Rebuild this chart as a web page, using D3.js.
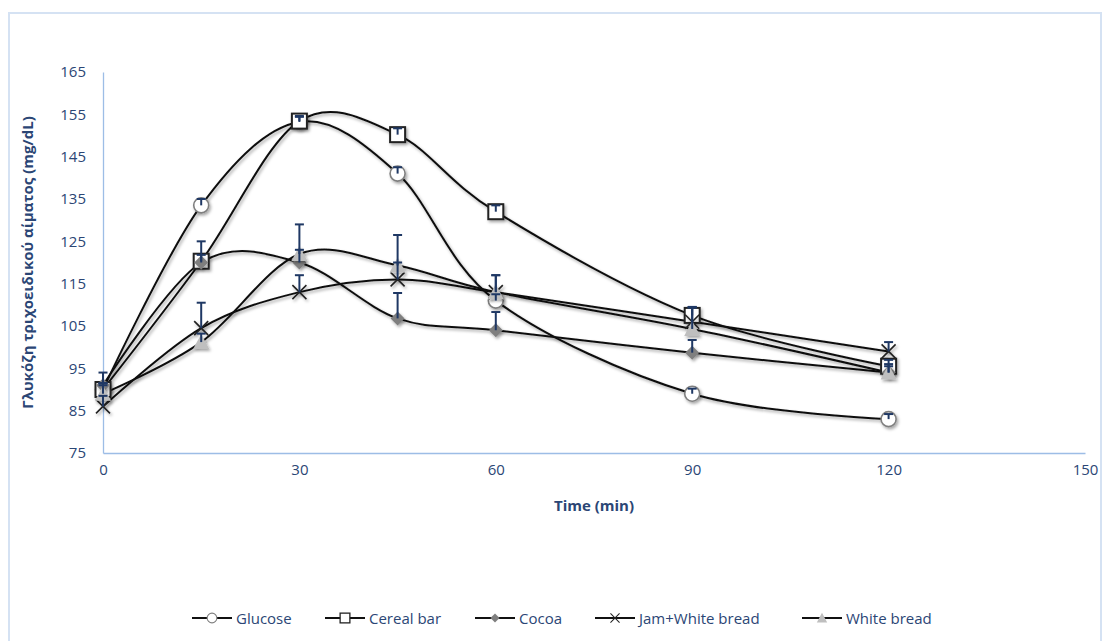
<!DOCTYPE html>
<html>
<head>
<meta charset="utf-8">
<script src="https://cdn.jsdelivr.net/npm/d3@7"></script>
<style>
  body { margin: 0; background: #fff; }
  #chart text { font-family: "Open Sans", "DejaVu Sans Condensed", sans-serif; fill: #2b4675; }
</style>
</head>
<body>
<div id="chart"></div>
<script>
// time points (min)
var times = [0, 15, 30, 45, 60, 90, 120];

// mean glucose (mg/dL) per series
var glucose   = [90, 133.5, 153.2, 141, 111, 89, 83];
var cerealBar = [90, 120.3, 153.4, 150.2, 132, 107.5, 95.5];
var cocoa     = [91, 120, 120, 106.8, 104, 98.7, 94];
var jamBread  = [86, 104.5, 113, 116, 113, 106, 99];
var whiteBread = [89, 101.2, 122, 119.3, 113, 104.3, 94];

// upper error (SD) per series
var glucoseErr   = [1.5, 1.5, 1.2, 1.5, 1.5, 1.2, 1.2];
var cerealErr    = [1.5, 1.5, 1.2, 1.5, 1.5, 2, 1.5];
var cocoaErr     = [3, 5, 3, 6, 4.3, 3, 2];
var jamErr       = [2.5, 6, 4, 4, 4, 3.5, 2.2];
var whiteErr     = [2, 2, 7, 7.2, 4, 5, 1.5];

var names = ["Glucose", "Cereal bar", "Cocoa", "Jam+White bread", "White bread"];
var xTicks = [0, 30, 60, 90, 120, 150];
var yTicks = [75, 85, 95, 105, 115, 125, 135, 145, 155, 165];

var series = [
  {name: names[0], values: glucose, err: glucoseErr, marker: "circle"},
  {name: names[1], values: cerealBar, err: cerealErr, marker: "square"},
  {name: names[2], values: cocoa, err: cocoaErr, marker: "diamond"},
  {name: names[3], values: jamBread, err: jamErr, marker: "x"},
  {name: names[4], values: whiteBread, err: whiteErr, marker: "triangle"}
];

var W = 1102, H = 641;
var margin = {left: 103, right: 17, top: 72, bottom: 188};

var svg = d3.select("#chart").append("svg")
  .attr("width", W).attr("height", H);

var defs = svg.append("defs");
defs.append("filter").attr("id", "shadow")
  .attr("x", "-50%").attr("y", "-50%").attr("width", "200%").attr("height", "200%")
  .append("feDropShadow")
  .attr("dx", 1.5).attr("dy", 2).attr("stdDeviation", 1.5)
  .attr("flood-color", "#000").attr("flood-opacity", 0.35);

// outer frame
svg.append("rect")
  .attr("x", 9).attr("y", 13).attr("width", W - 10).attr("height", H)
  .attr("fill", "none").attr("stroke", "#d5e2f3").attr("stroke-width", 2);

var x = d3.scaleLinear().domain([0, 150]).range([margin.left, W - margin.right]);
var y = d3.scaleLinear().domain([75, 165]).range([H - margin.bottom, margin.top]);

// axes
var xAxis = svg.append("g")
  .attr("transform", "translate(0," + y(75) + ")")
  .call(d3.axisBottom(x).tickValues(xTicks).tickSize(0).tickPadding(11));
xAxis.select(".domain").attr("stroke", "#9dbde6").attr("stroke-width", 1.3);
xAxis.selectAll("text").style("font-size", "15px");

var yAxis = svg.append("g")
  .attr("transform", "translate(" + x(0) + ",0)")
  .call(d3.axisLeft(y).tickValues(yTicks).tickSize(0).tickPadding(17));
yAxis.select(".domain").attr("stroke", "#9dbde6").attr("stroke-width", 1.3);
yAxis.selectAll("text").style("font-size", "15px");

svg.append("text")
  .attr("x", x(75)).attr("y", 511)
  .attr("text-anchor", "middle")
  .style("font-size", "15px").style("font-weight", "bold")
  .text("Time (min)");

svg.append("text")
  .attr("transform", "translate(33," + y(120) + ") rotate(-90)")
  .attr("text-anchor", "middle")
  .style("font-size", "15px").style("font-weight", "bold")
  .text("Γλυκόζη τριχοειδικού αίματος (mg/dL)");

var line = d3.line()
  .x(function(d) { return x(d.t); })
  .y(function(d) { return y(d.v); })
  .curve(d3.curveCardinal.tension(0));

function drawMarker(g, type) {
  if (type == "circle") {
    g.append("circle").attr("r", 7.5).attr("fill", "#fff")
      .attr("stroke", "#7f7f7f").attr("stroke-width", 1.6);
  } else if (type == "square") {
    g.append("rect").attr("x", -7.5).attr("y", -7.5).attr("width", 15).attr("height", 15)
      .attr("fill", "#fff").attr("stroke", "#222").attr("stroke-width", 2);
  } else if (type == "diamond") {
    g.append("path").attr("d", "M0,-7L7,0L0,7L-7,0Z").attr("fill", "#7f7f7f");
  } else if (type == "x") {
    g.append("path").attr("d", "M-7,-7L7,7M-7,7L7,-7")
      .attr("stroke", "#222").attr("stroke-width", 1.6).attr("fill", "none");
  } else if (type == "triangle") {
    g.append("path").attr("d", "M0,-8L8,7L-8,7Z").attr("fill", "#bfbfbf");
  }
}

var plot = svg.append("g");

series.forEach(function(s) {
  var pts = times.map(function(t, i) { return {t: t, v: s.values[i], e: s.err[i]}; });

  plot.append("path")
    .datum(pts)
    .attr("d", line)
    .attr("fill", "none")
    .attr("stroke", "#111")
    .attr("stroke-width", 2)
    .attr("filter", "url(#shadow)");

  s.pts = pts;
});

series.forEach(function(s) {
  var mk = plot.selectAll(null)
    .data(s.pts)
    .enter().append("g")
    .attr("transform", function(d) { return "translate(" + x(d.t) + "," + y(d.v) + ")"; })
    .attr("filter", "url(#shadow)");
  mk.each(function() { drawMarker(d3.select(this), s.marker); });
});

// error bars (upper only), drawn on top
series.forEach(function(s) {
  var eb = plot.selectAll(null)
    .data(s.pts)
    .enter().append("g")
    .attr("stroke", "#1f3864").attr("stroke-width", 2);
  eb.append("line")
    .attr("x1", function(d) { return x(d.t); })
    .attr("x2", function(d) { return x(d.t); })
    .attr("y1", function(d) { return y(d.v); })
    .attr("y2", function(d) { return y(d.v + d.e); });
  eb.append("line")
    .attr("x1", function(d) { return x(d.t) - 4.5; })
    .attr("x2", function(d) { return x(d.t) + 4.5; })
    .attr("y1", function(d) { return y(d.v + d.e); })
    .attr("y2", function(d) { return y(d.v + d.e); });
});

// legend
var legendX = [192, 325, 475, 595, 802];
var leg = svg.append("g");
series.forEach(function(s, i) {
  var g = leg.append("g").attr("transform", "translate(" + legendX[i] + ",618)");
  g.append("line").attr("x1", 0).attr("x2", 40)
    .attr("stroke", "#111").attr("stroke-width", 2);
  var m = g.append("g").attr("transform", "translate(20,0) scale(0.65)");
  drawMarker(m, s.marker);
  g.append("text").attr("x", 44).attr("y", 5.5)
    .style("font-size", "15px")
    .text(s.name);
});
</script>
</body>
</html>
